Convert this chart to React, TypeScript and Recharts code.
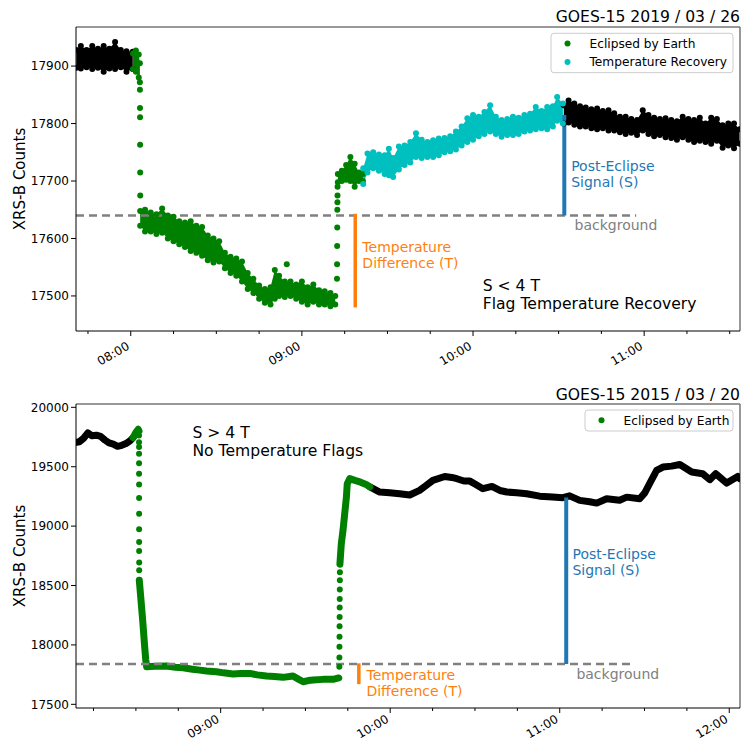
import React from "react";
import {
  Area,
  ComposedChart,
  Line,
  ReferenceDot,
  ReferenceLine,
  Scatter,
  XAxis,
  YAxis,
} from "recharts";

const FONT = "'DejaVu Sans', sans-serif";
const GREEN = "#008000";
const CYAN = "#00bfbf";
const ORANGE = "#ff7f0e";
const BLUE = "#1f77b4";
const GRAY = "#808080";

// time is minutes after 00:00 UT

// ---- top panel: GOES-15 2019/03/26 ----
const topPreT = [460.9, 462.5, 464.5, 466.5, 468.5, 470.5, 472.5, 474.5, 476.5, 478.5, 480.7];
const topPreLo = [17897, 17896, 17898, 17895, 17897, 17890, 17896, 17895, 17898, 17890, 17895];
const topPreHi = [17928, 17935, 17928, 17935, 17930, 17935, 17930, 17942, 17928, 17926, 17925];

const topEclStartT = [480.8, 481.8, 482.8, 483.2];
const topEclStartLo = [17895, 17890, 17880, 17872];
const topEclStartHi = [17922, 17927, 17920, 17905];

const topDropT = [483.22, 483.24, 483.26, 483.28, 483.3, 483.32];
const topDropV = [17859, 17827, 17811, 17763, 17715, 17675];

const topEclT = [
  483.3, 485, 487, 489, 491, 493, 495, 497, 499, 501, 503, 505, 507, 509, 511, 513, 515, 517,
  519, 521, 523, 525, 527, 529, 530.5, 532, 534, 536, 538, 540, 542, 544, 546, 548, 550, 551.7,
];
const topEclLo = [
  17622, 17612, 17612, 17608, 17610, 17600, 17595, 17590, 17585, 17578, 17575, 17570, 17562,
  17558, 17560, 17548, 17540, 17535, 17525, 17512, 17505, 17495, 17488, 17485, 17495, 17500,
  17498, 17500, 17495, 17490, 17485, 17490, 17485, 17485, 17482, 17485,
];
const topEclHi = [
  17648, 17650, 17645, 17642, 17652, 17640, 17638, 17630, 17628, 17630, 17622, 17620, 17605,
  17600, 17595, 17575, 17568, 17565, 17560, 17540, 17530, 17518, 17512, 17515, 17545, 17535,
  17525, 17525, 17520, 17525, 17515, 17520, 17510, 17508, 17505, 17500,
];
const topOutlierT = [534.7];
const topOutlierV = [17555];

const topRiseT = [552.3, 552.33, 552.36, 552.39, 552.42, 552.45, 552.48, 552.5];
const topRiseV = [17530, 17555, 17587, 17619, 17650, 17663, 17675, 17690];

const topPlatT = [552.6, 554, 555.5, 557, 558.5, 560, 561.4];
const topPlatLo = [17698, 17700, 17702, 17700, 17690, 17700, 17700];
const topPlatHi = [17712, 17718, 17728, 17742, 17730, 17715, 17712];

const topRecT = [
  561.5, 563, 565, 567, 569, 570.5, 572, 574, 576, 578, 580, 582, 584, 586, 588, 590, 592, 594,
  596, 598, 600, 602, 604, 606, 608, 610, 612, 614, 616, 618, 620, 622, 624, 626, 628, 629.5,
  631.5,
];
const topRecLo = [
  17695, 17715, 17722, 17718, 17712, 17710, 17707, 17720, 17728, 17732, 17742, 17740, 17742,
  17742, 17745, 17750, 17752, 17755, 17762, 17768, 17772, 17778, 17782, 17786, 17782, 17777,
  17780, 17780, 17782, 17786, 17788, 17790, 17792, 17790, 17795, 17805, 17800,
];
const topRecHi = [
  17722, 17748, 17750, 17746, 17745, 17756, 17740, 17760, 17762, 17768, 17783, 17772, 17768,
  17771, 17774, 17775, 17778, 17786, 17795, 17809, 17815, 17812, 17820, 17832, 17812, 17806,
  17808, 17812, 17810, 17815, 17817, 17829, 17822, 17829, 17830, 17846, 17835,
];

const topPostT = [
  631.8, 633.5, 635.5, 637.5, 639.5, 641.5, 643.5, 645.5, 647.5, 649.5, 651.5, 653.5, 655.5,
  657.5, 659.5, 661.5, 663.5, 665.5, 667.5, 669.5, 671.5, 673.5, 675.5, 677.5, 679.5, 681.5,
  683.5, 685.5, 687.5, 689.5, 691.5, 693.5,
];
const topPostLo = [
  17800, 17802, 17798, 17795, 17795, 17792, 17790, 17792, 17788, 17788, 17785, 17782, 17784,
  17780, 17788, 17782, 17778, 17780, 17776, 17775, 17772, 17776, 17772, 17768, 17770, 17768,
  17765, 17770, 17758, 17762, 17757, 17765,
];
const topPostHi = [
  17832, 17840, 17835, 17830, 17828, 17825, 17826, 17822, 17823, 17818, 17812, 17812, 17808,
  17806, 17823, 17815, 17810, 17808, 17809, 17806, 17804, 17812, 17808, 17806, 17810, 17800,
  17810, 17808, 17797, 17800, 17800, 17790,
];

const topTicks = [465, 480, 495, 510, 525, 540, 555, 570, 585, 600, 615, 630, 645, 660, 675, 690];
const topHours = [480, 540, 600, 660];
const topHourLabels = ["08:00", "09:00", "10:00", "11:00"];
const topYTicks = [17500, 17600, 17700, 17800, 17900];
const topLegendNames = ["Eclipsed by Earth", "Temperature Recovery"];
const topLegendColors = [GREEN, CYAN];

// ---- bottom panel: GOES-15 2015/03/20 ----
const botPreT = [488.9, 490, 491.5, 493, 494.5, 496, 497.5, 499, 500.5, 502, 503.5, 505, 506.5, 508, 509];
const botPreV = [19705, 19710, 19740, 19785, 19760, 19765, 19755, 19725, 19700, 19690, 19672, 19680, 19695, 19720, 19745];

const botEclStartT = [509, 510, 510.8, 511.1];
const botEclStartV = [19745, 19790, 19815, 19800];

const botDropT = [511.1, 511.1, 511.11, 511.11, 511.12, 511.12, 511.13, 511.13, 511.14, 511.14, 511.15, 511.15, 511.16, 511.16];
const botDropV = [19763, 19707, 19665, 19609, 19530, 19441, 19351, 19236, 19105, 18973, 18866, 18791, 18693, 18628];

const botEclT = [
  511.2, 511.5, 512.0, 512.4, 512.75, 513.1, 513.5, 513.8, 515, 517, 520.8, 524, 526.7, 530,
  532.6, 535, 538.5, 541, 544.4, 547, 550.3, 553, 556.2, 559, 562.1, 565.6, 567.5, 569.2, 571,
  572.7, 576.2, 579.8, 581.8,
];
const botEclV = [
  18545, 18461, 18320, 18208, 18097, 17984, 17872, 17816, 17818, 17820, 17822, 17812, 17808,
  17795, 17788, 17780, 17774, 17765, 17755, 17760, 17760, 17748, 17738, 17735, 17727, 17738,
  17712, 17690, 17700, 17704, 17710, 17710, 17722,
];

const botRiseT = [582.0, 582.02, 582.04, 582.06, 582.08, 582.1, 582.12, 582.14, 582.16, 582.18, 582.2];
const botRiseV = [17816, 17895, 17984, 18068, 18158, 18236, 18315, 18387, 18466, 18545, 18612];

const botRecT = [582.2, 582.7, 583.3, 583.9, 584.5, 584.8, 585.7, 587.5, 589.5, 591.5, 592.8];
const botRecV = [18680, 18853, 18965, 19105, 19244, 19357, 19400, 19385, 19370, 19350, 19330];

const botPostT = [
  592.8, 596.3, 599.8, 603.3, 606.9, 610.4, 612.6, 615.1, 619.3, 621.8, 623.6, 626.1, 628.2,
  630.3, 632.8, 636.0, 638.8, 641.3, 644.8, 648.3, 652.9, 657.5, 661.1, 663.5, 667.1, 670.6,
  673.1, 676.6, 681.2, 683.7, 688.3, 690.1, 691.8, 694.3, 696.5, 699.6, 702.5, 706.7, 710.6,
  713.1, 715.2, 719.1, 723.0, 723.7,
];
const botPostV = [
  19330, 19287, 19280, 19273, 19262, 19301, 19340, 19385, 19418, 19410, 19399, 19380, 19379,
  19350, 19315, 19334, 19300, 19287, 19280, 19273, 19252, 19245, 19239, 19255, 19217, 19205,
  19194, 19231, 19218, 19244, 19231, 19280, 19357, 19469, 19497, 19505, 19519, 19455, 19441,
  19391, 19441, 19362, 19418, 19400,
];

const botTicks = [495, 510, 525, 540, 555, 570, 585, 600, 615, 630, 645, 660, 675, 690, 705, 720];
const botHours = [540, 600, 660, 720];
const botHourLabels = ["09:00", "10:00", "11:00", "12:00"];
const botYTicks = [17500, 18000, 18500, 19000, 19500, 20000];
const botLegendNames = ["Eclipsed by Earth"];
const botLegendColors = [GREEN];

const pts = (ts: number[], vs: number[]) => ts.map((t, i) => ({ t, v: vs[i] }));
const band = (ts: number[], lo: number[], hi: number[]) =>
  ts.map((t, i) => ({ t, r: [lo[i], hi[i]] }));
const edges = (ts: number[], lo: number[], hi: number[]) => [...pts(ts, lo), ...pts(ts, hi)];

const dot = (color: string) => (p: any) => <circle cx={p.cx} cy={p.cy} r={3} fill={color} />;

function TimeTick(props: any) {
  const { x, y, payload, hours, labels, drop } = props;
  const i = hours.indexOf(payload.value);
  const lx = x - 0.5;
  const ly = y + drop;
  return (
    <g>
      <line x1={x} x2={x} y1={y} y2={y + (i >= 0 ? 5 : 3)} stroke="#000" />
      {i >= 0 && (
        <text
          x={lx}
          y={ly}
          textAnchor="end"
          fontSize={12}
          fontFamily={FONT}
          fill="#000"
          transform={`rotate(-30 ${lx} ${ly})`}
        >
          {labels[i]}
        </text>
      )}
    </g>
  );
}

const note = (lines: string[], color: string, size = 14, lh = 16) => (p: any) => {
  const { x, y } = p.viewBox;
  return (
    <text x={x} y={y} fill={color} fontSize={size} fontFamily={FONT}>
      {lines.map((s, i) => (
        <tspan key={i} x={x} dy={i ? lh : 0}>
          {s}
        </tspan>
      ))}
    </text>
  );
};

const yLabel = (p: any) => {
  const cy = p.viewBox.y + p.viewBox.height / 2;
  return (
    <text
      x={20}
      y={cy}
      transform={`rotate(-90 20 ${cy})`}
      textAnchor="middle"
      dominantBaseline="central"
      fontSize={15}
      fontFamily={FONT}
      fill="#000"
    >
      XRS-B Counts
    </text>
  );
};

const bandArea = (data: any[], color: string) => (
  <Area
    data={data}
    dataKey="r"
    type="linear"
    stroke="none"
    fill={color}
    fillOpacity={1}
    dot={false}
    activeDot={false}
    isAnimationActive={false}
  />
);

const dots = (data: any[], color: string) => (
  <Scatter data={data} dataKey="v" shape={dot(color)} isAnimationActive={false} />
);

const thick = (data: any[], color: string) => (
  <Line
    data={data}
    dataKey="v"
    type="linear"
    stroke={color}
    strokeWidth={7}
    strokeLinecap="round"
    strokeLinejoin="round"
    dot={false}
    activeDot={false}
    isAnimationActive={false}
  />
);

function TopChart() {
  return (
    <ComposedChart width={742} height={370} margin={{ top: 27, right: 2, bottom: 0, left: 0 }}>
      <XAxis
        type="number"
        dataKey="t"
        domain={[460.8, 693.6]}
        allowDataOverflow
        ticks={topTicks}
        interval={0}
        tickLine={false}
        tickSize={0}
        tickMargin={0}
        height={39}
        axisLine={{ stroke: "#000" }}
        tick={(p: any) => <TimeTick {...p} hours={topHours} labels={topHourLabels} drop={17.5} />}
      />
      <YAxis
        type="number"
        domain={[17439, 17968]}
        allowDataOverflow
        ticks={topYTicks}
        interval={0}
        width={76}
        tickSize={5}
        tickMargin={2}
        axisLine={{ stroke: "#000" }}
        tickLine={{ stroke: "#000" }}
        tick={{ fontSize: 12, fill: "#000", fontFamily: FONT }}
        label={yLabel}
      />
      <ReferenceLine y={17968} stroke="#777" strokeWidth={1.5} />
      <ReferenceLine x={693.6} stroke="#777" strokeWidth={1.5} />

      {bandArea(band(topPreT, topPreLo, topPreHi), "#000")}
      {dots(edges(topPreT, topPreLo, topPreHi), "#000")}
      {bandArea(band(topPostT, topPostLo, topPostHi), "#000")}
      {dots(edges(topPostT, topPostLo, topPostHi), "#000")}

      {bandArea(band(topEclStartT, topEclStartLo, topEclStartHi), GREEN)}
      {dots(edges(topEclStartT, topEclStartLo, topEclStartHi), GREEN)}
      {dots(pts(topDropT, topDropV), GREEN)}
      {bandArea(band(topEclT, topEclLo, topEclHi), GREEN)}
      {dots(edges(topEclT, topEclLo, topEclHi), GREEN)}
      {dots(pts(topOutlierT, topOutlierV), GREEN)}
      {dots(pts(topRiseT, topRiseV), GREEN)}
      {bandArea(band(topPlatT, topPlatLo, topPlatHi), GREEN)}
      {dots(edges(topPlatT, topPlatLo, topPlatHi), GREEN)}

      {bandArea(band(topRecT, topRecLo, topRecHi), CYAN)}
      {dots(edges(topRecT, topRecLo, topRecHi), CYAN)}

      <ReferenceLine
        segment={[{ x: 460.8, y: 17640 }, { x: 657.2, y: 17640 }]}
        stroke={GRAY}
        strokeWidth={2.5}
        strokeDasharray="8 5"
      />
      <ReferenceLine
        segment={[{ x: 558.7, y: 17643 }, { x: 558.7, y: 17480 }]}
        stroke={ORANGE}
        strokeWidth={3.5}
      />
      <ReferenceLine
        segment={[{ x: 632.0, y: 17640 }, { x: 632.0, y: 17815 }]}
        stroke={BLUE}
        strokeWidth={4}
      />
      <ReferenceDot x={561.2} y={17576} r={0} fill="none" stroke="none" label={note(["Temperature", "Difference (T)"], ORANGE)} />
      <ReferenceDot x={634.4} y={17717} r={0} fill="none" stroke="none" label={note(["Post-Eclipse", "Signal (S)"], BLUE)} />
      <ReferenceDot x={635.6} y={17614} r={0} fill="none" stroke="none" label={note(["background"], GRAY)} />
      <ReferenceDot x={603.4} y={17509} r={0} fill="none" stroke="none" label={note(["S < 4 T", "Flag Temperature Recovery"], "#000", 15.6, 18)} />
    </ComposedChart>
  );
}

function BottomChart() {
  return (
    <ComposedChart width={742} height={370} margin={{ top: 34, right: 2, bottom: 0, left: 0 }}>
      <XAxis
        type="number"
        dataKey="t"
        domain={[488.8, 723.8]}
        allowDataOverflow
        ticks={botTicks}
        interval={0}
        tickLine={false}
        tickSize={0}
        tickMargin={0}
        height={32}
        axisLine={{ stroke: "#000" }}
        tick={(p: any) => <TimeTick {...p} hours={botHours} labels={botHourLabels} drop={13.5} />}
      />
      <YAxis
        type="number"
        domain={[17469, 20028]}
        allowDataOverflow
        ticks={botYTicks}
        interval={0}
        width={76}
        tickSize={5}
        tickMargin={2}
        axisLine={{ stroke: "#000" }}
        tickLine={{ stroke: "#000" }}
        tick={{ fontSize: 12, fill: "#000", fontFamily: FONT }}
        label={yLabel}
      />
      <ReferenceLine y={20028} stroke="#777" strokeWidth={1.5} />
      <ReferenceLine x={723.8} stroke="#777" strokeWidth={1.5} />

      {thick(pts(botPreT, botPreV), "#000")}
      {thick(pts(botPostT, botPostV), "#000")}
      {thick(pts(botEclStartT, botEclStartV), GREEN)}
      {dots(pts(botDropT, botDropV), GREEN)}
      {thick(pts(botEclT, botEclV), GREEN)}
      {dots(pts(botRiseT, botRiseV), GREEN)}
      {thick(pts(botRecT, botRecV), GREEN)}

      <ReferenceLine
        segment={[{ x: 488.8, y: 17840 }, { x: 686.5, y: 17840 }]}
        stroke={GRAY}
        strokeWidth={2.5}
        strokeDasharray="8 5"
      />
      <ReferenceLine
        segment={[{ x: 588.9, y: 17845 }, { x: 588.9, y: 17670 }]}
        stroke={ORANGE}
        strokeWidth={3.5}
      />
      <ReferenceLine
        segment={[{ x: 662.3, y: 17840 }, { x: 662.3, y: 19240 }]}
        stroke={BLUE}
        strokeWidth={4}
      />
      <ReferenceDot x={591.6} y={17704} r={0} fill="none" stroke="none" label={note(["Temperature", "Difference (T)"], ORANGE)} />
      <ReferenceDot x={664.5} y={18727} r={0} fill="none" stroke="none" label={note(["Post-Eclipse", "Signal (S)"], BLUE)} />
      <ReferenceDot x={665.9} y={17717} r={0} fill="none" stroke="none" label={note(["background"], GRAY)} />
      <ReferenceDot x={530.0} y={19746} r={0} fill="none" stroke="none" label={note(["S > 4 T", "No Temperature Flags"], "#000", 15.6, 18)} />
    </ComposedChart>
  );
}

function LegendBox({ x, y, w, names, colors }: { x: number; y: number; w: number; names: string[]; colors: string[] }) {
  const rowH = 18.4;
  return (
    <g>
      <rect
        x={x}
        y={y}
        width={w}
        height={names.length * rowH + 2.6}
        rx={3}
        fill="#fff"
        fillOpacity={0.8}
        stroke="#cccccc"
      />
      {names.map((n, i) => (
        <g key={n}>
          <circle cx={x + 16.5} cy={y + 10.3 + i * rowH} r={3} fill={colors[i]} />
          <text x={x + 38.5} y={y + 14.6 + i * rowH} fontSize={12.2} fontFamily={FONT} fill="#000">
            {n}
          </text>
        </g>
      ))}
    </g>
  );
}

export default function App() {
  return (
    <div style={{ position: "absolute", left: 0, top: 0, width: 742, height: 740, background: "#fff", fontFamily: FONT }}>
      <div style={{ position: "absolute", left: 0, top: 0 }}>
        <TopChart />
      </div>
      <div style={{ position: "absolute", left: 0, top: 370 }}>
        <BottomChart />
      </div>
      <svg width={742} height={740} style={{ position: "absolute", left: 0, top: 0, pointerEvents: "none" }}>
        <text x={740} y={21.7} textAnchor="end" fontSize={15.6} fontFamily={FONT} fill="#000">
          GOES-15 2019 / 03 / 26
        </text>
        <text x={740} y={399.5} textAnchor="end" fontSize={15.6} fontFamily={FONT} fill="#000">
          GOES-15 2015 / 03 / 20
        </text>
        <LegendBox x={551} y={33.3} w={182} names={topLegendNames} colors={topLegendColors} />
        <LegendBox x={585} y={410} w={148} names={botLegendNames} colors={botLegendColors} />
      </svg>
    </div>
  );
}
